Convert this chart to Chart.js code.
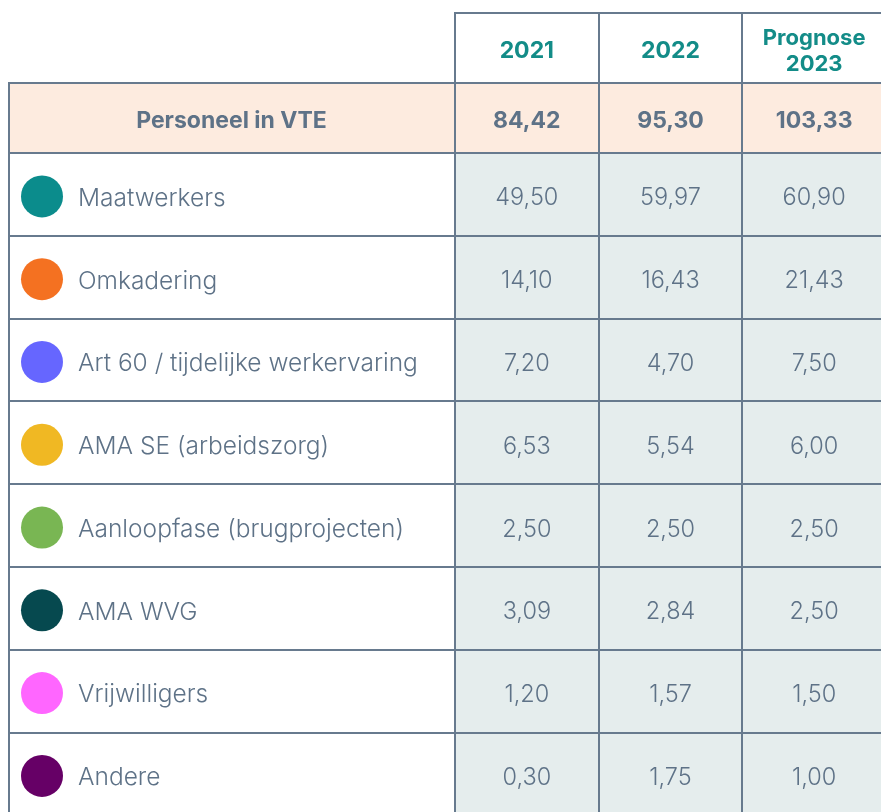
<!DOCTYPE html>
<html>
<head>
<meta charset="utf-8">
<script src="https://cdn.jsdelivr.net/npm/chart.js@4/dist/chart.umd.min.js"></script>
<style>
  html, body { margin: 0; padding: 0; background: #fff; overflow: hidden; }
  #wrap { position: absolute; left: 0; top: 0; }
</style>
</head>
<body>
<div id="wrap"><canvas id="tabel" width="890" height="830"></canvas></div>
<script>
// kolommen en rijen
const years = ['2021', '2022', 'Prognose 2023'];
const rows = ['Maatwerkers', 'Omkadering', 'Art 60 / tijdelijke werkervaring', 'AMA SE (arbeidszorg)',
  'Aanloopfase (brugprojecten)', 'AMA WVG', 'Vrijwilligers', 'Andere'];
const rowColors = ['#0b8c8c', '#f47121', '#6666ff', '#f0b823', '#79b653', '#06494f', '#ff66ff', '#660066'];

// waarden per kolom
const v2021 = [49.50, 14.10, 7.20, 6.53, 2.50, 3.09, 1.20, 0.30];
const v2022 = [59.97, 16.43, 4.70, 5.54, 2.50, 2.84, 1.57, 1.75];
const v2023 = [60.90, 21.43, 7.50, 6.00, 2.50, 2.50, 1.50, 1.00];
const totals = [84.42, 95.30, 103.33];
const totalLabel = 'Personeel in VTE';

const lineColor = '#677a8e';
const textColor = '#5e7287';
const headColor = '#138c88';
const FONT = 'Inter, "Open Sans", sans-serif';

const fmt = v => v.toFixed(2).replace('.', ',');

const tablePlugin = {
  id: 'tablePlugin',
  beforeDraw(chart) {
    const ctx = chart.ctx;
    const { chartArea } = chart;
    const xs = chart.scales.x;
    const ys = chart.scales.y;
    const left = ys.right - ys.options.grid.tickLength;
    ctx.save();
    ctx.fillStyle = '#fff';
    ctx.fillRect(0, 0, chart.width, chart.height);
    // cellen met waarden
    ctx.fillStyle = '#e5eded';
    ctx.fillRect(chartArea.left, chartArea.top, chartArea.right - chartArea.left, chartArea.bottom - chartArea.top);
    // totaalrij
    const headH = 71;
    ctx.fillStyle = '#fdebdf';
    ctx.fillRect(left, xs.top + headH, chartArea.right - left, xs.bottom - xs.top - headH);
    ctx.restore();
  },
  afterDraw(chart) {
    const ctx = chart.ctx;
    const { chartArea } = chart;
    const xs = chart.scales.x;
    const ys = chart.scales.y;
    const left = ys.right - ys.options.grid.tickLength;
    const headH = 71;
    ctx.save();
    ctx.strokeStyle = lineColor;
    ctx.lineWidth = 2;
    ctx.beginPath();
    ctx.moveTo(chartArea.left, xs.top + 1);
    ctx.lineTo(chartArea.right, xs.top + 1);
    ctx.moveTo(left, xs.top + headH);
    ctx.lineTo(chartArea.right, xs.top + headH);
    ctx.moveTo(left + 1, xs.top + headH);
    ctx.lineTo(left + 1, chartArea.bottom);
    ctx.stroke();

    // kolomkoppen
    ctx.fillStyle = headColor;
    ctx.textAlign = 'center';
    ctx.textBaseline = 'middle';
    const headMid = xs.top + headH / 2 + 4;
    years.forEach((y, i) => {
      const cx = xs.getPixelForValue(i);
      const parts = y.split(' ');
      if (parts.length > 1) {
        ctx.font = 'bold 22px ' + FONT;
        ctx.fillText(parts[0], cx, headMid - 13);
        ctx.fillText(parts[1], cx, headMid + 13);
      } else {
        ctx.font = 'bold 23px ' + FONT;
        ctx.fillText(y, cx, headMid);
      }
    });

    // totaalrij
    const totMid = (xs.top + headH + xs.bottom) / 2 + 3;
    ctx.fillStyle = textColor;
    ctx.font = 'bold 23px ' + FONT;
    ctx.fillText(totalLabel, (left + ys.right) / 2, totMid);
    totals.forEach((t, i) => ctx.fillText(fmt(t), xs.getPixelForValue(i), totMid));

    // bolletjes
    rows.forEach((r, i) => {
      ctx.fillStyle = rowColors[i];
      ctx.beginPath();
      ctx.arc(left + 34, ys.getPixelForValue(i) + 2, 21, 0, Math.PI * 2);
      ctx.fill();
    });

    // waarden uit de datasets
    ctx.fillStyle = textColor;
    ctx.font = '300 23.5px ' + FONT;
    chart.data.datasets.forEach((ds, di) => {
      chart.getDatasetMeta(di).data.forEach((pt, k) => {
        ctx.fillText(fmt(ds.data[k].v), pt.x, pt.y + 4);
      });
    });
    ctx.restore();
  }
};

const series = [v2021, v2022, v2023];

new Chart(document.getElementById('tabel'), {
  type: 'scatter',
  data: {
    datasets: series.map((vals, c) => ({
      label: years[c],
      data: rows.map((r, i) => ({ x: years[c], y: r, v: vals[i] })),
      pointRadius: 0,
      pointHoverRadius: 0
    }))
  },
  options: {
    responsive: false,
    animation: false,
    events: [],
    layout: { padding: { left: 78, top: 12, right: 4, bottom: 0 } },
    plugins: { legend: { display: false }, tooltip: { enabled: false } },
    scales: {
      x: {
        type: 'category',
        labels: years,
        position: 'top',
        offset: true,
        grid: { offset: true, color: lineColor, lineWidth: 2, drawTicks: true, tickLength: 141, tickColor: lineColor, tickWidth: 2 },
        border: { display: false },
        ticks: { display: false },
        afterFit: s => { s.height = 141; }
      },
      y: {
        type: 'category',
        labels: rows,
        position: 'left',
        offset: true,
        grid: { offset: true, color: lineColor, lineWidth: 2, drawTicks: true, tickLength: 447, tickColor: lineColor, tickWidth: 2 },
        border: { display: false },
        ticks: { crossAlign: 'far', padding: 0, labelOffset: 4, color: textColor, font: { family: FONT, size: 24.5, weight: 300 }, autoSkip: false },
        afterFit: s => { s.width = 377; }
      }
    }
  },
  plugins: [tablePlugin]
});
</script>
</body>
</html>
